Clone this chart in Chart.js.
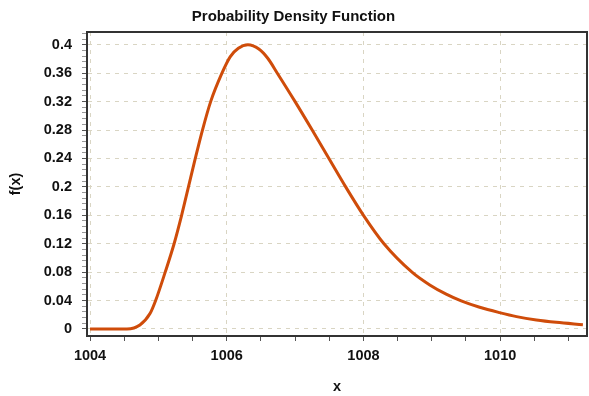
<!DOCTYPE html>
<html>
<head>
<meta charset="utf-8">
<script src="https://cdn.jsdelivr.net/npm/chart.js@4/dist/chart.umd.min.js"></script>
<style>
  html, body { margin: 0; padding: 0; background: #fff; }
  #wrap { width: 589px; height: 396px; position: relative; }
</style>
</head>
<body>
<div id="wrap"><canvas id="pdf"></canvas></div>
<script>
// Values.
const xValues = [
  1004.0, 1004.3, 1004.54, 1004.73, 1004.88, 1004.96, 1005.1, 1005.23, 1005.34,
  1005.44, 1005.54, 1005.645, 1005.765, 1005.93, 1006.05, 1006.17, 1006.31, 1006.47,
  1006.6, 1006.74, 1007.0, 1007.25, 1007.495, 1007.74, 1008.0, 1008.3, 1008.71,
  1008.97, 1009.21, 1009.43, 1009.7, 1009.99, 1010.24, 1010.53, 1010.82, 1011.21
];
const fxValues = [
  0, 0, 0, 0.0056, 0.022, 0.04, 0.08, 0.12, 0.16,
  0.2, 0.24, 0.28, 0.32, 0.36, 0.383, 0.395, 0.4, 0.394,
  0.381, 0.36, 0.32, 0.28, 0.24, 0.2, 0.16, 0.12, 0.08,
  0.062, 0.049, 0.0395, 0.0305, 0.023, 0.0174, 0.0127, 0.0094, 0.0061
];
const xMajorTicks = [1004, 1006, 1008, 1010];
const yMajorTicks = [0, 0.04, 0.08, 0.12, 0.16, 0.2, 0.24, 0.28, 0.32, 0.36, 0.4];

const FONT = "'Liberation Sans', Arial, sans-serif";
const isMajor = (v, list) => list.some((m) => Math.abs(m - v) < 1e-6);

// frame around the plot area
const framePlugin = {
  id: 'frame',
  afterDraw(chart) {
    const { ctx, chartArea: a } = chart;
    ctx.save();
    ctx.strokeStyle = '#333';
    ctx.lineWidth = 2;
    ctx.strokeRect(a.left, a.top, a.right - a.left, a.bottom - a.top);
    ctx.restore();
  }
};

new Chart(document.getElementById('pdf'), {
  type: 'line',
  data: {
    datasets: [{
      data: xValues.map((x, i) => ({ x, y: fxValues[i] })),
      borderColor: '#cf4c0a',
      borderWidth: 3,
      pointRadius: 0,
      cubicInterpolationMode: 'monotone',
      fill: false
    }]
  },
  options: {
    responsive: true,
    maintainAspectRatio: false,
    animation: false,
    layout: { padding: { left: 0, right: 2, top: 0, bottom: 0 } },
    plugins: {
      legend: { display: false },
      tooltip: { enabled: false },
      title: {
        display: true,
        text: 'Probability Density Function',
        color: '#111',
        font: { family: FONT, size: 15, weight: 'bold' },
        padding: { top: 8, bottom: 6 }
      }
    },
    scales: {
      x: {
        type: 'linear',
        min: 1003.956,
        max: 1011.27,
        afterBuildTicks(scale) {
          const t = [];
          for (let v = 1004; v <= 1011; v += 0.5) t.push({ value: v });
          scale.ticks = t;
        },
        afterFit(scale) { scale.height = 60; },
        ticks: {
          autoSkip: false,
          maxRotation: 0,
          padding: 6,
          color: '#111',
          font: { family: FONT, size: 14.5, weight: 'bold' },
          callback: (v) => (isMajor(v, xMajorTicks) ? String(v) : '')
        },
        grid: {
          color: (c) => (c.tick && isMajor(c.tick.value, xMajorTicks) ? '#d9d5c3' : 'rgba(0,0,0,0)'),
          tickColor: '#555',
          tickLength: 5,
          lineWidth: 1
        },
        border: { display: true, color: '#333', width: 2, dash: [4, 5] },
        title: {
          display: true,
          text: 'x',
          color: '#111',
          font: { family: FONT, size: 14.5, weight: 'bold' },
          padding: { top: 0, bottom: 0 }
        }
      },
      y: {
        min: -0.0099,
        max: 0.418,
        afterBuildTicks(scale) {
          const t = [];
          for (let i = 0; i <= 52; i++) t.push({ value: i * 0.008 });
          scale.ticks = t;
        },
        afterFit(scale) { scale.width = 87; },
        ticks: {
          autoSkip: false,
          padding: 10,
          color: '#111',
          font: { family: FONT, size: 14.5, weight: 'bold' },
          callback: (v) => (isMajor(v, yMajorTicks) ? String(Math.round(v * 100) / 100) : '')
        },
        grid: {
          color: (c) => (c.tick && isMajor(c.tick.value, yMajorTicks) ? '#d9d5c3' : 'rgba(0,0,0,0)'),
          tickColor: (c) => (c.tick && isMajor(c.tick.value, yMajorTicks) ? '#555' : '#999'),
          tickLength: 5,
          lineWidth: 1
        },
        border: { display: true, color: '#333', width: 2, dash: [4, 5] },
        title: {
          display: true,
          text: 'f(x)',
          color: '#111',
          font: { family: FONT, size: 14.5, weight: 'bold' },
          padding: { top: 7, bottom: 0 }
        }
      }
    }
  },
  plugins: [framePlugin]
});
</script>
</body>
</html>
